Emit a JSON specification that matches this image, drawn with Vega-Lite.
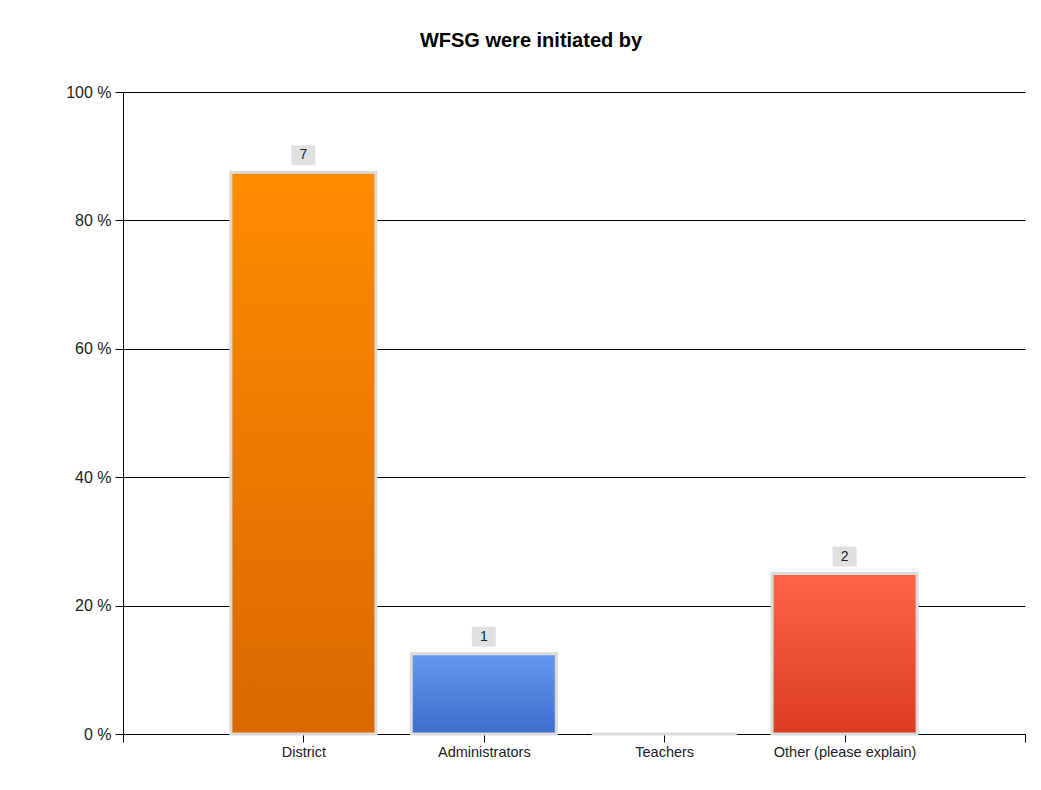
{
  "$schema": "https://vega.github.io/schema/vega-lite/v6.json",
  "autosize": "none",
  "width": 902,
  "height": 642,
  "padding": {"left": 123, "top": 92, "right": 16, "bottom": 56},
  "background": "white",
  "config": {
    "view": {"stroke": null},
    "font": "Liberation Sans"
  },
  "title": {
    "text": "WFSG were initiated by",
    "font": "Liberation Sans",
    "fontSize": 20,
    "fontWeight": "bold",
    "color": "#000000",
    "anchor": "middle",
    "dx": -43,
    "offset": 33
  },
  "data": {
    "values": [
      {"category": "District", "percent": 87.5, "count": 7},
      {"category": "Administrators", "percent": 12.5, "count": 1},
      {"category": "Teachers", "percent": 0, "count": 0},
      {"category": "Other (please explain)", "percent": 25, "count": 2}
    ]
  },
  "encoding": {
    "x": {
      "field": "category",
      "type": "nominal",
      "sort": null,
      "scale": {
        "type": "point",
        "padding": 0,
        "domain": ["_start", "District", "Administrators", "Teachers", "Other (please explain)", "_end"]
      },
      "axis": {
        "title": null,
        "labelAngle": 0,
        "labelExpr": "datum.value == '_start' || datum.value == '_end' ? '' : datum.value",
        "labelFont": "Liberation Sans",
        "labelFontSize": 14.5,
        "labelColor": "#222222",
        "labelPadding": 3,
        "tickSize": 8,
        "tickColor": "#000000",
        "domainColor": "#000000",
        "grid": false
      }
    },
    "y": {
      "field": "percent",
      "type": "quantitative",
      "scale": {"domain": [0, 100], "nice": false},
      "axis": {
        "title": null,
        "values": [0, 20, 40, 60, 80, 100],
        "labelExpr": "datum.value + ' %'",
        "labelFont": "Liberation Sans",
        "labelFontSize": 16,
        "labelColor": "#222222",
        "labelPadding": 4,
        "tickSize": 8,
        "tickColor": "#000000",
        "domainColor": "#000000",
        "gridColor": "#000000",
        "gridOpacity": 1,
        "gridWidth": 1
      }
    }
  },
  "layer": [
    {
      "transform": [{"filter": "datum.category == 'District'"}],
      "mark": {
        "type": "bar",
        "size": 145,
        "stroke": "#dadada",
        "strokeWidth": 3,
        "color": {
          "gradient": "linear", "x1": 0, "y1": 0, "x2": 0, "y2": 1,
          "stops": [{"offset": 0, "color": "#ff8c00"}, {"offset": 1, "color": "#db6800"}]
        }
      }
    },
    {
      "transform": [{"filter": "datum.category == 'Administrators'"}],
      "mark": {
        "type": "bar",
        "size": 145,
        "stroke": "#dadada",
        "strokeWidth": 3,
        "color": {
          "gradient": "linear", "x1": 0, "y1": 0, "x2": 0, "y2": 1,
          "stops": [{"offset": 0, "color": "#6597ee"}, {"offset": 1, "color": "#3d6ecb"}]
        }
      }
    },
    {
      "transform": [{"filter": "datum.category == 'Teachers'"}],
      "mark": {
        "type": "bar",
        "size": 145,
        "stroke": "#dadada",
        "strokeWidth": 3,
        "color": "#cccccc"
      }
    },
    {
      "transform": [{"filter": "datum.category == 'Other (please explain)'"}],
      "mark": {
        "type": "bar",
        "size": 145,
        "stroke": "#dadada",
        "strokeWidth": 3,
        "color": {
          "gradient": "linear", "x1": 0, "y1": 0, "x2": 0, "y2": 1,
          "stops": [{"offset": 0, "color": "#ff6449"}, {"offset": 1, "color": "#db3c22"}]
        }
      }
    },
    {
      "transform": [{"filter": "datum.count > 0"}],
      "mark": {
        "type": "point",
        "shape": "M-1.1,-1H1.1Q1.2,-1 1.2,-0.9V0.9Q1.2,1 1.1,1H-1.1Q-1.2,1 -1.2,0.9V-0.9Q-1.2,-1 -1.1,-1Z",
        "size": 400,
        "filled": true,
        "color": "#e0e0e0",
        "opacity": 1,
        "strokeWidth": 0,
        "yOffset": -17
      }
    },
    {
      "transform": [{"filter": "datum.count > 0"}],
      "mark": {
        "type": "text",
        "font": "Liberation Sans",
        "fontSize": 14,
        "color": "#222222",
        "baseline": "middle",
        "align": "center",
        "yOffset": -17
      },
      "encoding": {"text": {"field": "count", "type": "quantitative"}}
    }
  ]
}
